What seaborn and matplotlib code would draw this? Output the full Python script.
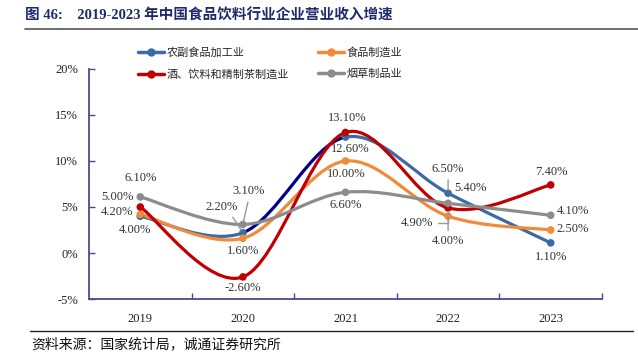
import matplotlib
matplotlib.use("Agg")
import matplotlib.pyplot as plt
import seaborn as sns
import numpy as np
import pandas as pd
from matplotlib.path import Path
from matplotlib.patches import PathPatch
from matplotlib.lines import Line2D

years = ["2019", "2020", "2021", "2022", "2023"]
series_names = ["农副食品加工业", "食品制造业", "酒、饮料和精制茶制造业", "烟草制品业"]
agri = [4.0, 2.2, 12.6, 6.5, 1.1]
food = [4.2, 1.6, 10.0, 4.0, 2.5]
drink = [5.0, -2.6, 13.1, 4.9, 7.4]
tobacco = [6.1, 3.1, 6.6, 5.4, 4.1]
yticks = [-5, 0, 5, 10, 15, 20]

colors = ["#3A6BA6", "#F08B3B", "#C00000", "#8C8C8C"]
navy = "#00008B"

sns.set_theme(style="white")
FAM = ["Liberation Serif", "Noto Sans CJK SC", "DejaVu Sans"]
CJK = ["Noto Sans CJK SC", "DejaVu Sans"]
plt.rcParams["font.family"] = FAM

values = [agri, food, drink, tobacco]
df = pd.DataFrame({
    "x": np.tile(np.arange(len(years)), len(series_names)),
    "v": np.concatenate(values),
    "s": np.repeat(series_names, len(years)),
})

fig = plt.figure(figsize=(6.38, 3.59), dpi=100)
ax = fig.add_axes([89 / 638, 1 - 299 / 359, 513 / 638, 230 / 359])


def smooth_segments(ys):
    # excel-like smoothed line: one cubic bezier per segment
    n = len(ys)
    p = [np.array([i, y], dtype=float) for i, y in enumerate(ys)]
    segs = []
    for i in range(n - 1):
        p0 = p[i - 1] if i > 0 else p[i]
        p3 = p[i + 2] if i + 2 < n else p[i + 1]
        c1 = p[i] + (p[i + 1] - p0) / 6
        c2 = p[i + 1] - (p3 - p[i]) / 6
        segs.append([p[i], c1, c2, p[i + 1]])
    return segs


for k, (name, ys) in enumerate(zip(series_names, values)):
    for j, seg in enumerate(smooth_segments(ys)):
        col = colors[k]
        if k == 0 and j == 1:
            col = navy
        path = Path(seg, [Path.MOVETO, Path.CURVE4, Path.CURVE4, Path.CURVE4])
        ax.add_patch(PathPatch(path, fc="none", ec=col, lw=2.3, zorder=2 + k,
                               capstyle="round"))

sns.scatterplot(data=df, x="x", y="v", hue="s", palette=colors, s=30,
                edgecolor="none", legend=False, ax=ax, zorder=10)

ax.set_xlim(-0.5, 4.5)
ax.set_ylim(-5, 20)
ax.set_yticks(yticks)
ax.set_yticklabels([f"{t}%" for t in yticks], fontsize=9)
ax.set_xticks(range(len(years)))
ax.set_xticklabels(years, fontsize=9)
ax.set_xticks(np.arange(0.5, 5, 1), minor=True)
ax.tick_params(axis="x", which="major", length=0, pad=10)
ax.tick_params(axis="x", which="minor", direction="in", length=4, color="#4A4A8A", width=1, bottom=True)
ax.tick_params(axis="y", direction="in", length=4, color="#4A4A8A", width=1, pad=8, left=True)
ax.set_xlabel("")
ax.set_ylabel("")
for sp in ["top", "right"]:
    ax.spines[sp].set_visible(False)
for sp in ["left", "bottom"]:
    ax.spines[sp].set_color("#4A4A8A")
    ax.spines[sp].set_linewidth(1.3)
ax.tick_params(labelcolor="#222222")

# data labels: (series, year index, dx px, dy px, ha)
labels = [
    (3, 0, 0, 19, "center"), (2, 0, -7, 10, "right"), (1, 0, -7, 2, "right"),
    (0, 0, -5, -14, "center"),
    (1, 1, 0, -13, "center"), (2, 1, 0, -11, "center"),
    (2, 2, 2, 14, "center"), (0, 2, 5, -12, "center"), (1, 2, 1, -13, "center"),
    (3, 2, 0, -13, "center"),
    (3, 3, 6, 15, "left"),
    (2, 4, 1, 13, "center"), (3, 4, 6, 4, "left"), (1, 4, 6, 1, "left"),
    (0, 4, 0, -14, "center"),
]
for k, i, dx, dy, ha in labels:
    v = values[k][i]
    ax.annotate(f"{v:.2f}%", xy=(i, v), xytext=(dx, dy), textcoords="offset pixels",
                ha=ha, va="center", fontsize=9, color="#333333", zorder=20)

# labels with leader lines
leader = dict(arrowstyle="-", color="#999999", lw=1, shrinkA=1, shrinkB=2)
ax.annotate(f"{agri[1]:.2f}%", xy=(1, agri[1]), xytext=(-21, 26), textcoords="offset pixels",
            ha="center", va="center", fontsize=9, color="#333333",
            arrowprops=dict(leader, relpos=(0.75, 0.0)), zorder=20)
ax.annotate(f"{tobacco[1]:.2f}%", xy=(1, tobacco[1]), xytext=(6, 33), textcoords="offset pixels",
            ha="center", va="center", fontsize=9, color="#333333",
            arrowprops=dict(leader, relpos=(0.5, 0.0)), zorder=20)
ax.annotate(f"{agri[3]:.2f}%", xy=(3, agri[3]), xytext=(0, 24), textcoords="offset pixels",
            ha="center", va="center", fontsize=9, color="#333333",
            arrowprops=dict(leader, relpos=(0.5, 0.0)), zorder=20)
ax.annotate(f"{food[3]:.2f}%", xy=(3, food[3]), xytext=(0, -25), textcoords="offset pixels",
            ha="center", va="center", fontsize=9, color="#333333",
            arrowprops=dict(leader, relpos=(0.5, 1.0)), zorder=20)
ax.annotate(f"{drink[3]:.2f}%", xy=(3, drink[3]), xytext=(-15, -15), textcoords="offset pixels",
            ha="right", va="center", fontsize=9, color="#333333",
            arrowprops=dict(leader, relpos=(1.0, 0.5),
                            connectionstyle="angle,angleA=0,angleB=90,rad=0"), zorder=20)

# legend (column-wise fill, so reorder to get rows: agri|food, drink|tobacco)
handles = [Line2D([0], [0], color=c, lw=2.5, marker="o", markersize=5) for c in colors]
order = [0, 2, 1, 3]
fig.legend([handles[i] for i in order], [series_names[i] for i in order],
           loc="upper left", bbox_to_anchor=(128 / 638, 1 - 37 / 359),
           ncol=2, frameon=False, prop={"family": CJK, "size": 8},
           handlelength=2.3, handletextpad=0.3, columnspacing=2.6, labelspacing=1.0)

# title, rules and source
fig.text(25 / 638, 1 - 16 / 359, "图 46:    2019-2023 年中国食品饮料行业企业营业收入增速",
         family=FAM, fontsize=10.5, fontweight="bold", color="#1F2A6E", va="center", ha="left")
fig.add_artist(Line2D([25 / 638, 1.0], [1 - 29 / 359] * 2, color="#555555", lw=1.2))
fig.add_artist(Line2D([30 / 638, 633 / 638], [1 - 331 / 359] * 2, color="#222222", lw=1.0))
fig.text(31 / 638, 1 - 344 / 359, "资料来源：国家统计局，诚通证券研究所",
         family=CJK, fontsize=10, color="#111111", va="center", ha="left")

fig.savefig("out.png", dpi=100)
